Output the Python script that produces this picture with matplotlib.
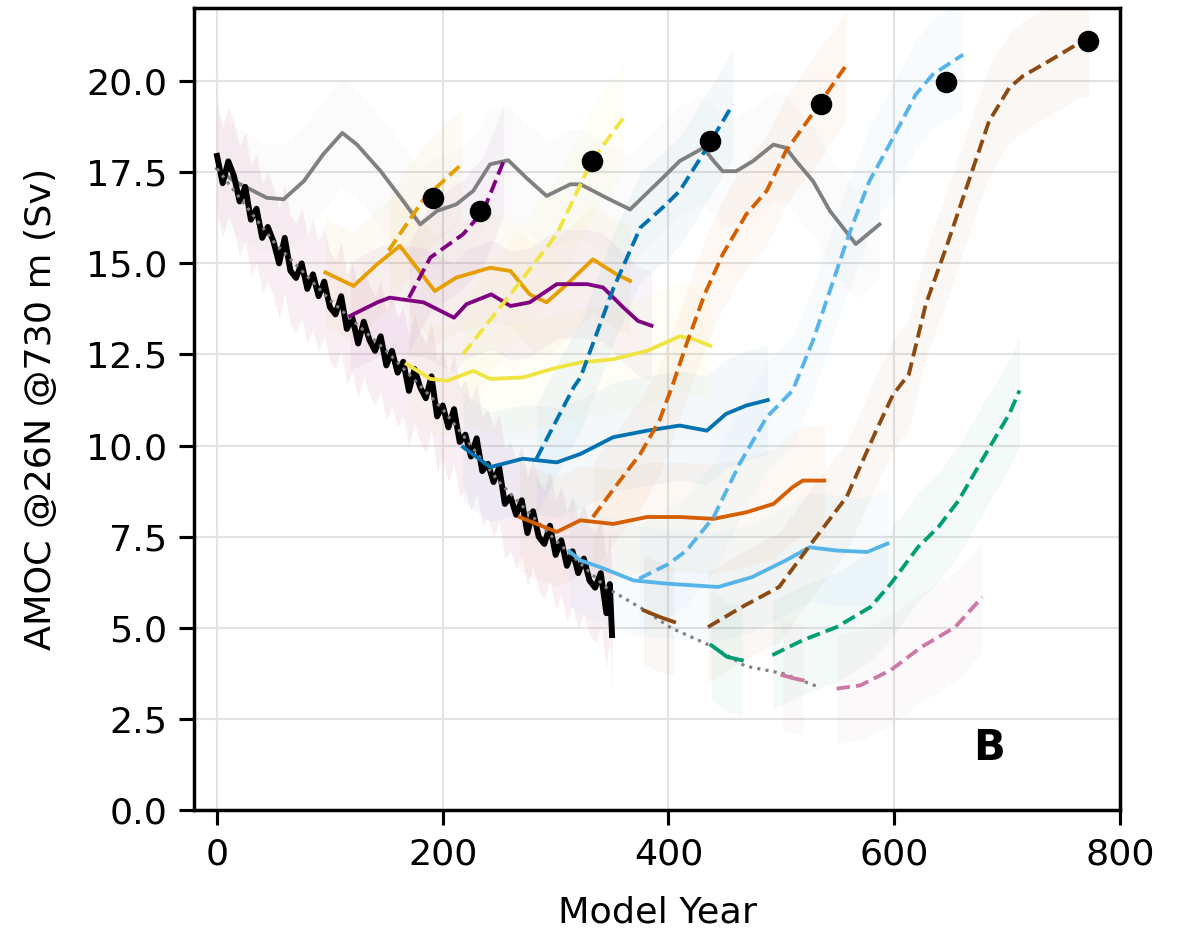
import numpy
import matplotlib.pyplot as plt

# AMOC at 26N (730 m) for the hosing run, the control run and the
# recovery branches (solid = forcing held, dashed = recovery).
# values

# hosing run, annual values sampled every ~5 years (black)
hose_x = [0, 5, 10, 15, 20, 25, 30, 35, 40, 45, 50, 55, 60, 65, 70, 75, 80, 85, 90, 95,
          100, 105, 110, 115, 120, 125, 130, 135, 140, 145, 150, 155, 160, 165, 170, 175,
          180, 185, 190, 195, 200, 205, 210, 215, 220, 225, 230, 235, 240, 245, 250, 255,
          260, 265, 270, 275, 280, 285, 290, 295, 300, 305, 310, 315, 320, 325, 330, 335,
          340, 345, 348, 350]
hose_y = [17.95, 17.2, 17.8, 17.4, 16.7, 17.1, 16.2, 16.5, 15.7, 16.0, 15.6, 15.0, 15.7, 14.8,
          14.6, 15.0, 14.3, 14.7, 14.1, 14.5, 13.8, 13.6, 14.1, 13.2, 13.5, 12.8, 13.4, 12.9,
          12.6, 13.0, 12.2, 12.6, 12.0, 12.3, 11.5, 12.1, 11.6, 11.3, 11.9, 10.8, 11.1, 10.5,
          11.0, 10.1, 10.3, 9.7, 10.2, 9.3, 9.5, 9.0, 9.4, 8.4, 8.6, 8.1, 8.5, 7.6, 8.2, 7.5,
          7.3, 7.8, 7.0, 7.4, 6.7, 7.1, 6.5, 6.9, 6.3, 6.1, 6.5, 5.4, 6.2, 4.8]

# smoothed hosing run (grey dotted)
hmean_x = [0, 50, 100, 150, 200, 250, 300, 345, 378, 402, 438, 468, 501, 531]
hmean_y = [17.6, 15.6, 14.0, 12.6, 11.0, 9.0, 7.4, 6.1, 5.5, 5.0, 4.5, 3.95, 3.75, 3.4]

# control run (grey)
ctrl_x = [0, 15, 44, 59, 77, 94, 111, 124, 145, 165, 180, 195, 212, 227, 242, 258, 274, 292,
          313, 322, 345, 366, 395, 410, 431, 440, 448, 460, 475, 493, 504, 513, 528, 543,
          566, 587]
ctrl_y = [17.6, 17.26, 16.8, 16.76, 17.26, 17.99, 18.58, 18.26, 17.53, 16.71, 16.07, 16.44,
          16.62, 16.99, 17.72, 17.83, 17.35, 16.85, 17.17, 17.17, 16.8, 16.48, 17.35, 17.81,
          18.17, 17.81, 17.53, 17.53, 17.81, 18.26, 18.17, 17.81, 17.26, 16.44, 15.53, 16.07]

# recovery branches: (colour, solid x, solid y, dashed x, dashed y)
gold_sx = [96, 121, 142, 162, 193, 212, 242, 260, 277, 292, 307, 333, 354, 366]
gold_sy = [14.75, 14.38, 14.98, 15.48, 14.24, 14.61, 14.88, 14.79, 14.15, 13.93, 14.34, 15.11, 14.7, 14.52]
gold_dx = [152, 183, 217]
gold_dy = [15.35, 16.76, 17.73]

purp_sx = [118, 142, 153, 183, 210, 221, 243, 260, 277, 301, 328, 342, 360, 373, 385]
purp_sy = [13.56, 13.93, 14.06, 13.93, 13.51, 13.88, 14.15, 13.83, 13.93, 14.43, 14.43, 14.34, 13.79, 13.42, 13.29]
purp_dx = [170, 189, 218, 236, 254]
purp_dy = [14.06, 15.16, 15.8, 16.44, 17.81]

yell_sx = [168, 189, 204, 227, 242, 271, 301, 322, 351, 381, 410, 422, 437]
yell_sy = [12.24, 11.83, 11.78, 12.05, 11.83, 11.87, 12.14, 12.28, 12.37, 12.6, 13.0, 12.92, 12.74]
yell_dx = [218, 260, 301, 332, 360]
yell_dy = [12.51, 14.15, 15.8, 17.81, 18.99]

blue_sx = [218, 242, 271, 301, 322, 351, 381, 410, 434, 451, 469, 488]
blue_sy = [9.96, 9.41, 9.64, 9.54, 9.77, 10.23, 10.41, 10.55, 10.41, 10.87, 11.1, 11.25]
blue_dx = [283, 316, 322, 351, 375, 398, 410, 434, 457]
blue_dy = [9.64, 11.6, 11.87, 14.3, 15.98, 16.62, 16.99, 18.17, 19.36]

verm_sx = [268, 301, 322, 351, 381, 410, 440, 469, 493, 510, 519, 538]
verm_sy = [8.04, 7.63, 7.95, 7.85, 8.04, 8.04, 7.99, 8.17, 8.4, 8.86, 9.04, 9.04]
verm_dx = [333, 357, 375, 392, 404, 416, 432, 448, 469, 487, 504, 525, 558]
verm_dy = [8.04, 9.04, 9.77, 10.69, 11.69, 12.79, 14.15, 15.25, 16.35, 16.99, 18.08, 18.99, 20.46]

sky_sx = [312, 322, 339, 369, 399, 444, 474, 504, 525, 549, 576, 594]
sky_sy = [7.1, 6.85, 6.67, 6.3, 6.21, 6.12, 6.39, 6.85, 7.21, 7.12, 7.08, 7.31]
sky_dx = [374, 400, 416, 440, 463, 487, 510, 528, 543, 560, 578, 596, 619, 634, 661]
sky_dy = [6.35, 6.75, 7.12, 8.04, 9.5, 10.78, 11.51, 12.88, 14.25, 15.8, 17.26, 18.27, 19.63, 20.18, 20.73]

brown_sx = [378, 392, 405]
brown_sy = [5.48, 5.3, 5.16]
brown_dx = [435, 465, 498, 525, 558, 584, 599, 613, 628, 646, 667, 684, 702, 714, 737, 764, 772]
brown_dy = [5.02, 5.57, 6.12, 7.25, 8.6, 10.41, 11.4, 11.96, 13.88, 15.43, 17.35, 18.9, 19.82,
            20.14, 20.55, 21.05, 21.1]

green_sx = [438, 452, 465]
green_sy = [4.52, 4.2, 4.11]
green_dx = [492, 519, 549, 579, 597, 621, 639, 657, 681, 702, 711]
green_dy = [4.25, 4.66, 5.02, 5.57, 6.21, 7.21, 7.76, 8.49, 9.77, 10.87, 11.51]

pink_sx = [501, 510, 519]
pink_sy = [3.7, 3.62, 3.56]
pink_dx = [549, 570, 597, 624, 654, 678]
pink_dy = [3.33, 3.42, 3.84, 4.47, 5.02, 5.84]

branches = [
  ('#E69F00', gold_sx, gold_sy, gold_dx, gold_dy),
  ('#800080', purp_sx, purp_sy, purp_dx, purp_dy),
  ('#F0E442', yell_sx, yell_sy, yell_dx, yell_dy),
  ('#0072B2', blue_sx, blue_sy, blue_dx, blue_dy),
  ('#D55E00', verm_sx, verm_sy, verm_dx, verm_dy),
  ('#56B4E9', sky_sx, sky_sy, sky_dx, sky_dy),
  ('#8C4A12', brown_sx, brown_sy, brown_dx, brown_dy),
  ('#009E73', green_sx, green_sy, green_dx, green_dy),
  ('#CC79A7', pink_sx, pink_sy, pink_dx, pink_dy),
]

# tipping points (black dots)
dot_x = [191, 233, 332, 437, 535, 646, 772]
dot_y = [16.8, 16.44, 17.81, 18.35, 19.36, 19.97, 21.1]

spread = 1.5   # half width of the faint annual-variability band

plt.rcParams['font.size'] = 10.5
fig = plt.figure(figsize=(4.74, 3.728), dpi=250)
ax = fig.add_axes([0.1641, 0.1309, 0.7810, 0.8602])

def band(x, y, c, a=0.045):
  x = numpy.array(x)
  y = numpy.array(y)
  ax.fill_between(x, y - spread, y + spread, color=c, alpha=a, lw=0, zorder=1)

# faint bands first
band(hose_x, hose_y, '#CC79A7', 0.12)
band(ctrl_x, ctrl_y, 'grey', 0.03)
for c, sx, sy, dx, dy in branches:
  band(sx, sy, c)
  band(dx, dy, c)

ax.plot(ctrl_x, ctrl_y, color='grey', lw=1.1, zorder=3)
ax.plot(hose_x, hose_y, color='black', lw=1.7, zorder=4)
ax.plot(hmean_x, hmean_y, color='grey', lw=0.9, ls=':', zorder=5)

for c, sx, sy, dx, dy in branches:
  ax.plot(sx, sy, color=c, lw=1.1, zorder=6)
  ax.plot(dx, dy, color=c, lw=1.1, ls='--', dashes=(3.5, 1.6), zorder=6)

ax.plot(dot_x, dot_y, 'o', color='black', ms=5.2, zorder=8)

ax.text(684, 1.7, 'B', fontsize=12, fontweight='bold', ha='center', va='center')

ax.set_xlim(-20, 800)
ax.set_ylim(0, 22)
ax.set_xticks([0, 200, 400, 600, 800])
ax.set_yticks([0, 2.5, 5, 7.5, 10, 12.5, 15, 17.5, 20])
ax.set_yticklabels(['0.0', '2.5', '5.0', '7.5', '10.0', '12.5', '15.0', '17.5', '20.0'])
ax.grid(True, color='#e3e3e3', lw=0.6, zorder=0)
ax.set_axisbelow(True)
ax.tick_params(length=4.3, width=0.9)
for s in ax.spines.values():
  s.set_linewidth(1.0)
ax.set_xlabel('Model Year', labelpad=7)
ax.set_ylabel('AMOC @26N @730 m (Sv)', labelpad=8)

fig.savefig('out.png', dpi=250)
